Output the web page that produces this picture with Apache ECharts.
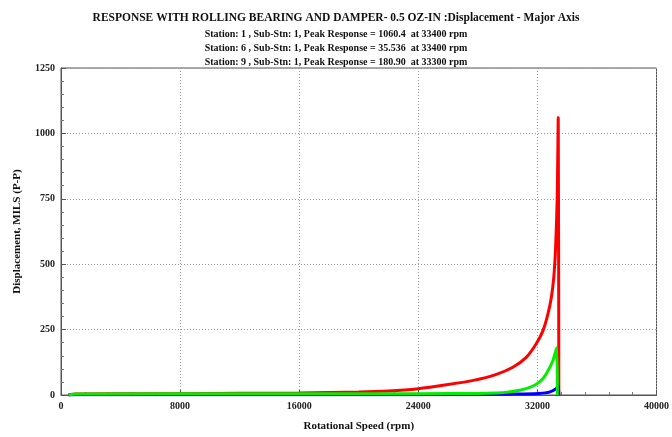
<!DOCTYPE html>
<html><head><meta charset="utf-8">
<script src="https://cdn.jsdelivr.net/npm/echarts@6/dist/echarts.min.js"></script>
<style>html,body{margin:0;padding:0;background:#fff}#c{width:672px;height:437px}</style>
</head><body><div id="c"></div>
<script>
const titleMain = 'RESPONSE WITH ROLLING BEARING AND DAMPER- 0.5 OZ-IN :Displacement - Major Axis';
const subtitles = [
  'Station: 1 , Sub-Stn: 1, Peak Response = 1060.4  at 33400 rpm',
  'Station: 6 , Sub-Stn: 1, Peak Response = 35.536  at 33400 rpm',
  'Station: 9 , Sub-Stn: 1, Peak Response = 180.90  at 33300 rpm'
];
const xTicks = [0, 8000, 16000, 24000, 32000, 40000];
const yTicks = [0, 250, 500, 750, 1000, 1250];

const redRpm = [500, 1000, 8000, 16000, 20000, 22000, 24000, 26000, 27700, 29200, 30350, 31250, 31900, 32370, 32700, 32930, 33100, 33220, 33330, 33400, 33440];
const redVal = [0, 4, 5, 8, 11, 15, 24, 40, 56, 78, 106, 144, 194, 245, 308, 371, 450, 560, 750, 1060.4, 0];

const blueRpm = [500, 1000, 16000, 28000, 30000, 31000, 32100, 32800, 33250, 33400, 33440];
const blueVal = [0, 1, 1, 2, 3, 4, 6, 11, 24, 35.5, 0];

const greenRpm = [500, 1000, 16000, 24000, 28000, 29200, 30000, 30800, 31400, 31900, 32300, 32600, 33040, 33300, 33340];
const greenVal = [0, 4, 5, 5, 6, 8, 11, 18, 27, 40, 58, 81, 131, 180.9, 0];

function pairs(xs, ys){ return xs.map((x,i)=>[x, ys[i]]); }

const serif = '"Liberation Serif", "DejaVu Serif", serif';
const chart = echarts.init(document.getElementById('c'));
const axisCommon = {
  axisLine:{show:true, lineStyle:{color:'#555', width:1}},
  axisTick:{show:true, inside:true, length:5, lineStyle:{color:'#555'}},
  minorTick:{show:true, splitNumber:5, length:3, lineStyle:{color:'#777'}},
  splitLine:{show:true, lineStyle:{color:'#999', type:[1,2], width:1}},
  axisLabel:{fontFamily:serif, fontWeight:'bold', fontSize:10, color:'#222', formatter:v=>String(v)}
};
chart.setOption({
  animation:false,
  backgroundColor:'#fff',
  title:[
    {text:titleMain, left:'center', top:7, textStyle:{fontFamily:serif, fontWeight:'bold', fontSize:11.5, color:'#111'}},
    {text:subtitles[0], left:'center', top:24, textStyle:{fontFamily:serif, fontWeight:'bold', fontSize:10, color:'#111'}},
    {text:subtitles[1], left:'center', top:38, textStyle:{fontFamily:serif, fontWeight:'bold', fontSize:10, color:'#111'}},
    {text:subtitles[2], left:'center', top:52, textStyle:{fontFamily:serif, fontWeight:'bold', fontSize:10, color:'#111'}}
  ],
  grid:{left:61, right:15, top:68, bottom:39, show:true, borderColor:'#555', borderWidth:1},
  xAxis:Object.assign({}, axisCommon, {
    type:'value', min:xTicks[0], max:xTicks[xTicks.length-1], interval:8000,
    name:'Rotational Speed (rpm)', nameLocation:'middle', nameGap:26,
    nameTextStyle:{fontFamily:serif, fontWeight:'bold', fontSize:11, color:'#111'},
    axisLabel:Object.assign({}, axisCommon.axisLabel, {margin:6})
  }),
  yAxis:Object.assign({}, axisCommon, {
    type:'value', min:yTicks[0], max:yTicks[yTicks.length-1], interval:250,
    name:'Displacement, MILS (P-P)', nameLocation:'middle', nameGap:38,
    nameTextStyle:{fontFamily:serif, fontWeight:'bold', fontSize:11, color:'#111'},
    axisLabel:Object.assign({}, axisCommon.axisLabel, {margin:6})
  }),
  series:[
    {type:'line', data:pairs(redRpm, redVal), showSymbol:false, lineStyle:{color:'#ff0000', width:3}, itemStyle:{color:'#ff0000'}, smooth:0.2},
    {type:'line', data:pairs(blueRpm, blueVal), showSymbol:false, lineStyle:{color:'#0000ff', width:3}, itemStyle:{color:'#0000ff'}, smooth:0.2},
    {type:'line', data:pairs(greenRpm, greenVal), showSymbol:false, lineStyle:{color:'#00ee00', width:3}, itemStyle:{color:'#00ee00'}, smooth:0.2}
  ]
});
</script></body></html>
